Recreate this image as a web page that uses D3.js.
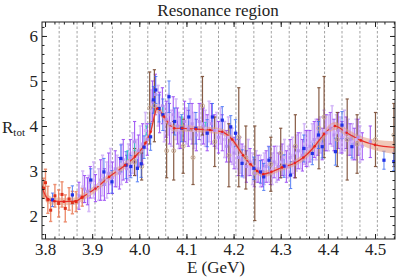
<!DOCTYPE html>
<html><head><meta charset="utf-8">
<script src="https://cdn.jsdelivr.net/npm/d3@7"></script>
<style>body{margin:0;background:#fff} svg{display:block}</style>
</head><body>
<svg id="c" width="399" height="279"></svg>
<script>
// ---- data ----
const xTicks = [3.8, 3.9, 4.0, 4.1, 4.2, 4.3, 4.4, 4.5];
const yTicks = [2, 3, 4, 5, 6];
const binEdges = [3.830,3.868,3.906,3.943,3.980,4.018,4.056,4.093,4.131,4.168,4.205,4.243,4.280,4.318,4.355,4.393,4.430,4.468,4.505];

const curveE   = [3.793,3.806,3.820,3.840,3.865,3.878,3.907,3.936,3.970,3.991,4.013,4.024,4.038,4.052,4.074,4.091,4.120,4.150,4.176,4.197,4.220,4.236,4.250,4.263,4.280,4.303,4.330,4.348,4.372,4.392,4.415,4.440,4.470,4.500,4.546];
const curveR   = [2.65,2.38,2.33,2.32,2.33,2.41,2.61,2.87,3.13,3.32,3.62,3.87,4.39,4.21,3.95,3.95,3.93,3.91,3.87,3.70,3.35,3.15,3.00,2.93,2.98,3.08,3.18,3.30,3.55,3.82,4.00,3.85,3.68,3.58,3.52];
const curveErr = [0.12,0.10,0.08,0.08,0.08,0.08,0.08,0.08,0.08,0.08,0.09,0.09,0.10,0.09,0.07,0.07,0.07,0.07,0.07,0.07,0.07,0.07,0.07,0.07,0.07,0.07,0.07,0.08,0.08,0.09,0.09,0.09,0.10,0.12,0.14];

const redE   = [3.797,3.801,3.806,3.812,3.821,3.829,3.836,3.843,3.851,3.858,3.866,3.879];
const redR   = [2.62,2.74,2.36,2.13,2.45,2.28,2.48,2.17,2.38,2.30,2.32,2.42];
const redErr = [0.22,0.30,0.30,0.25,0.25,0.30,0.28,0.30,0.25,0.25,0.22,0.20];

const purpleE   = [3.872,3.884,3.890,3.896,3.907,3.918,3.926,3.935,3.943,3.949,3.958,3.966,3.973,3.981,3.990,3.998,4.007,4.017,4.028,4.034,4.043,4.049,4.057,4.064,4.072,4.081,4.087,4.096,4.104,4.112,4.121,4.127,4.136,4.144,4.153,4.159,4.168,4.176,4.185,4.193,4.201,4.210,4.218,4.227,4.235,4.244,4.252,4.261,4.269,4.278,4.286,4.295,4.303,4.312,4.320,4.329,4.337,4.346,4.354,4.362,4.371,4.379,4.388,4.396,4.405,4.413,4.422,4.430,4.439,4.447,4.456,4.464,4.473,4.490];
const purpleR   = [2.45,2.60,2.55,2.75,2.62,2.80,2.70,2.95,2.85,3.05,2.95,3.25,3.05,3.30,3.65,3.45,3.60,3.70,4.55,4.70,4.30,4.45,4.15,4.05,4.25,4.00,3.85,4.10,3.95,4.05,3.80,4.10,4.00,3.85,4.05,3.90,3.75,3.85,3.55,3.60,3.40,3.30,3.25,3.10,3.20,2.95,3.05,2.95,3.10,3.00,3.20,3.10,3.25,3.10,3.30,3.20,3.45,3.35,3.50,3.55,3.70,3.75,3.60,3.85,3.95,3.80,3.90,3.75,3.85,3.70,3.60,3.75,3.55,3.65];
const purpleErr = [0.30,0.30,0.30,0.35,0.30,0.45,0.35,0.45,0.35,0.40,0.35,0.45,0.30,0.40,0.45,0.35,0.45,0.35,0.45,0.45,0.45,0.40,0.40,0.45,0.40,0.40,0.35,0.45,0.40,0.45,0.35,0.40,0.40,0.40,0.45,0.35,0.35,0.40,0.35,0.40,0.35,0.40,0.35,0.35,0.30,0.30,0.30,0.30,0.35,0.30,0.35,0.30,0.35,0.35,0.40,0.35,0.40,0.35,0.40,0.35,0.40,0.40,0.35,0.40,0.35,0.35,0.40,0.35,0.35,0.35,0.35,0.40,0.30,0.35];

const lavE   = [3.880,3.893,3.903,3.914,3.922,3.931,3.939,3.953,3.962,3.977,3.986,3.994,4.002,4.013,4.025,4.040,4.053,4.061,4.068,4.078,4.084,4.100,4.108,4.116,4.132,4.140,4.148,4.164,4.172,4.181,4.189,4.197,4.206,4.214,4.223,4.231,4.240,4.248,4.257,4.265,4.274,4.282,4.291,4.299,4.308,4.316,4.325,4.333,4.342,4.350,4.358,4.367,4.375,4.384,4.392,4.401,4.409,4.418,4.426,4.435,4.443,4.452,4.460,4.468];
const lavR   = [2.65,2.50,2.80,2.70,2.90,2.80,3.10,3.00,3.15,3.20,3.40,3.30,3.55,3.90,4.35,4.45,4.05,4.25,3.95,4.15,3.90,4.00,4.15,3.90,4.05,3.95,4.10,3.90,4.00,3.70,3.75,3.55,3.45,3.35,3.20,3.30,3.05,3.10,3.00,3.05,3.15,3.05,3.15,3.20,3.30,3.20,3.35,3.40,3.45,3.60,3.50,3.65,3.70,3.80,3.90,3.85,4.00,3.85,3.80,3.90,3.75,3.65,3.70,3.60];
const lavErr = [0.35,0.40,0.40,0.35,0.45,0.40,0.40,0.35,0.45,0.40,0.45,0.40,0.45,0.40,0.45,0.45,0.40,0.45,0.40,0.45,0.40,0.40,0.45,0.40,0.45,0.40,0.45,0.40,0.40,0.40,0.45,0.40,0.40,0.40,0.35,0.40,0.35,0.35,0.35,0.35,0.40,0.35,0.40,0.35,0.40,0.35,0.40,0.40,0.40,0.45,0.40,0.40,0.45,0.40,0.45,0.40,0.45,0.40,0.40,0.45,0.40,0.40,0.45,0.40];

const blueE   = [3.816,3.858,3.897,3.925,3.942,3.961,3.972,3.982,3.996,4.004,4.010,4.024,4.030,4.035,4.042,4.050,4.063,4.075,4.090,4.105,4.120,4.144,4.155,4.176,4.194,4.204,4.218,4.243,4.257,4.264,4.275,4.307,4.321,4.349,4.367,4.380,4.388,4.416,4.430,4.451,4.519,4.540];
const blueR   = [2.36,2.47,2.80,2.98,2.76,3.28,3.13,3.10,3.06,3.16,3.53,3.76,4.58,4.80,4.39,4.25,4.65,4.10,3.95,4.20,3.95,3.84,4.20,4.13,3.98,3.84,3.17,3.06,2.98,2.87,3.24,3.11,2.91,3.50,3.39,3.80,3.54,3.43,4.02,3.54,3.24,3.21];
const blueErr = [0.15,0.20,0.25,0.30,0.25,0.30,0.30,0.25,0.30,0.30,0.25,0.30,0.30,0.30,0.30,0.35,0.35,0.30,0.30,0.30,0.35,0.30,0.30,0.30,0.25,0.30,0.30,0.25,0.25,0.30,0.30,0.25,0.30,0.30,0.25,0.30,0.25,0.30,0.30,0.25,0.20,0.20];

const brownE   = [3.990,4.005,4.022,4.032,4.058,4.073,4.093,4.114,4.134,4.160,4.190,4.211,4.226,4.245,4.279,4.300,4.331,4.381,4.392,4.420,4.441,4.462,4.501,4.540];
const brownR   = [3.20,3.10,4.40,4.45,3.45,3.45,3.55,3.30,4.45,3.65,3.35,3.75,3.30,2.95,3.15,3.40,3.55,3.95,4.20,3.70,3.70,3.60,3.70,3.80];
const brownErr = [0.30,0.30,0.80,0.80,0.60,0.65,0.60,0.60,0.65,0.55,0.70,1.10,0.70,1.05,0.60,0.55,0.70,0.90,0.90,0.60,0.90,0.65,0.60,0.70];

const cyanE   = [3.975,3.990,4.015,4.050,4.090,4.140];
const cyanR   = [3.35,3.55,3.90,4.35,4.10,4.00];
const cyanErr = [0.10,0.10,0.10,0.10,0.10,0.08];

// ---- layout ----
const L = 42, R = 395, T = 22, B = 239;
const x = d3.scaleLinear().domain([3.7936, 4.5424]).range([L, R]);
const y = d3.scaleLinear().domain([1.49, 6.31]).range([B, T]);
const svg = d3.select("#c");
const serif = "'Liberation Serif','Times New Roman',serif";

svg.append("defs").append("clipPath").attr("id","clip")
  .append("rect").attr("x",L).attr("y",T).attr("width",R-L).attr("height",B-T);
const plot = svg.append("g").attr("clip-path","url(#clip)");

plot.selectAll("line.bin").data(binEdges).join("line")
  .attr("x1",d=>x(d)).attr("x2",d=>x(d)).attr("y1",T).attr("y2",B)
  .attr("stroke","#8a8a8a").attr("stroke-width",0.8).attr("stroke-dasharray","2.5,2");

function zip(E,Rv,Er){ return E.map((e,i)=>({e, r:Rv[i], s:Er[i]})); }

function errBars(g, data, color, width, opacity, cap){
  const gg = g.append("g").attr("stroke",color).attr("stroke-width",width).attr("opacity",opacity);
  gg.selectAll("line.v").data(data).join("line")
    .attr("x1",d=>x(d.e)).attr("x2",d=>x(d.e)).attr("y1",d=>y(d.r-d.s)).attr("y2",d=>y(d.r+d.s));
  gg.selectAll("line.t").data(data).join("line")
    .attr("x1",d=>x(d.e)-cap).attr("x2",d=>x(d.e)+cap).attr("y1",d=>y(d.r+d.s)).attr("y2",d=>y(d.r+d.s));
  gg.selectAll("line.b").data(data).join("line")
    .attr("x1",d=>x(d.e)-cap).attr("x2",d=>x(d.e)+cap).attr("y1",d=>y(d.r-d.s)).attr("y2",d=>y(d.r-d.s));
}
function squares(g, data, color, size, opacity){
  g.append("g").selectAll("rect").data(data).join("rect")
    .attr("x",d=>x(d.e)-size/2).attr("y",d=>y(d.r)-size/2).attr("width",size).attr("height",size)
    .attr("fill",color).attr("opacity",opacity);
}

const purple = zip(purpleE,purpleR,purpleErr);
const lav = zip(lavE,lavR,lavErr);
const blue = zip(blueE,blueR,blueErr);
const brown = zip(brownE,brownR,brownErr);
const red = zip(redE,redR,redErr);
const cyan = zip(cyanE,cyanR,cyanErr);

errBars(plot, lav, "#c7a2f6", 1.6, 0.75, 1.6);
errBars(plot, purple, "#9440f4", 1.1, 0.85, 1.6);
errBars(plot, brown, "#7a4a30", 1.2, 0.9, 1.6);
errBars(plot, red, "#e9734d", 1.4, 0.8, 1.6);
errBars(plot, blue, "#3d6cf4", 1.0, 0.85, 1.6);
errBars(plot, cyan, "#2ccbc0", 1.0, 0.9, 1.2);

const cdata = curveE.map((e,i)=>({e, r:curveR[i], s:curveErr[i]}));
plot.append("path").datum(cdata)
  .attr("d", d3.area().x(d=>x(d.e)).y0(d=>y(d.r-d.s)).y1(d=>y(d.r+d.s)).curve(d3.curveMonotoneX))
  .attr("fill","#e49a80").attr("opacity",0.55);
plot.append("path").datum(cdata)
  .attr("d", d3.line().x(d=>x(d.e)).y(d=>y(d.r)).curve(d3.curveMonotoneX))
  .attr("fill","none").attr("stroke","#e8302a").attr("stroke-width",1.2);

squares(plot, lav, "#d2b8f4", 3, 0.9);
squares(plot, purple, "#b58cf0", 3, 0.9);
plot.append("g").selectAll("circle").data(brown).join("circle")
  .attr("cx",d=>x(d.e)).attr("cy",d=>y(d.r)).attr("r",2)
  .attr("fill","none").attr("stroke","#c7aa92").attr("stroke-width",1);
squares(plot, red, "#e0321c", 3, 1);
squares(plot, blue, "#2130e6", 3.2, 1);
plot.append("g").selectAll("circle").data(cdata).join("circle")
  .attr("cx",d=>x(d.e)).attr("cy",d=>y(d.r)).attr("r",1.3).attr("fill","#e8201a");

svg.append("rect").attr("x",L).attr("y",T).attr("width",R-L).attr("height",B-T)
  .attr("fill","none").attr("stroke","#222").attr("stroke-width",1);

const xMinor = d3.range(3.80, 4.55, 0.02).filter(v=>v>3.7936 && v<4.5424);
const yMinor = d3.range(1.6, 6.31, 0.2);

function axisG(axis, tx, ty){
  const g = svg.append("g").attr("transform",`translate(${tx},${ty})`).call(axis);
  g.select(".domain").remove();
  g.selectAll("line").attr("stroke","#222");
  g.selectAll("text").attr("font-family",serif).attr("font-size",17).attr("fill","#222");
  return g;
}
axisG(d3.axisBottom(x).tickValues(xTicks).tickSize(-5).tickPadding(4).tickFormat(d3.format(".1f")),0,B);
axisG(d3.axisBottom(x).tickValues(xMinor).tickSize(-2.5).tickFormat(""),0,B);
axisG(d3.axisTop(x).tickValues(xTicks).tickSize(-5).tickFormat(""),0,T);
axisG(d3.axisTop(x).tickValues(xMinor).tickSize(-2.5).tickFormat(""),0,T);
axisG(d3.axisLeft(y).tickValues(yTicks).tickSize(-5).tickPadding(4).tickFormat(d3.format("d")),L,0);
axisG(d3.axisLeft(y).tickValues(yMinor).tickSize(-2.5).tickFormat(""),L,0);
axisG(d3.axisRight(y).tickValues(yTicks).tickSize(-5).tickFormat(""),R,0);
axisG(d3.axisRight(y).tickValues(yMinor).tickSize(-2.5).tickFormat(""),R,0);

svg.append("text").attr("x",218).attr("y",16).attr("text-anchor","middle")
  .attr("font-family",serif).attr("font-size",17).attr("fill","#222").text("Resonance region");
svg.append("text").attr("x",216).attr("y",273).attr("text-anchor","middle")
  .attr("font-family",serif).attr("font-size",17).attr("fill","#222").text("E (GeV)");
const yl = svg.append("text").attr("x",2).attr("y",133)
  .attr("font-family",serif).attr("font-size",17).attr("fill","#222");
yl.append("tspan").text("R");
yl.append("tspan").attr("font-size",11).attr("dy",3).text("tot");
</script>
</body></html>
